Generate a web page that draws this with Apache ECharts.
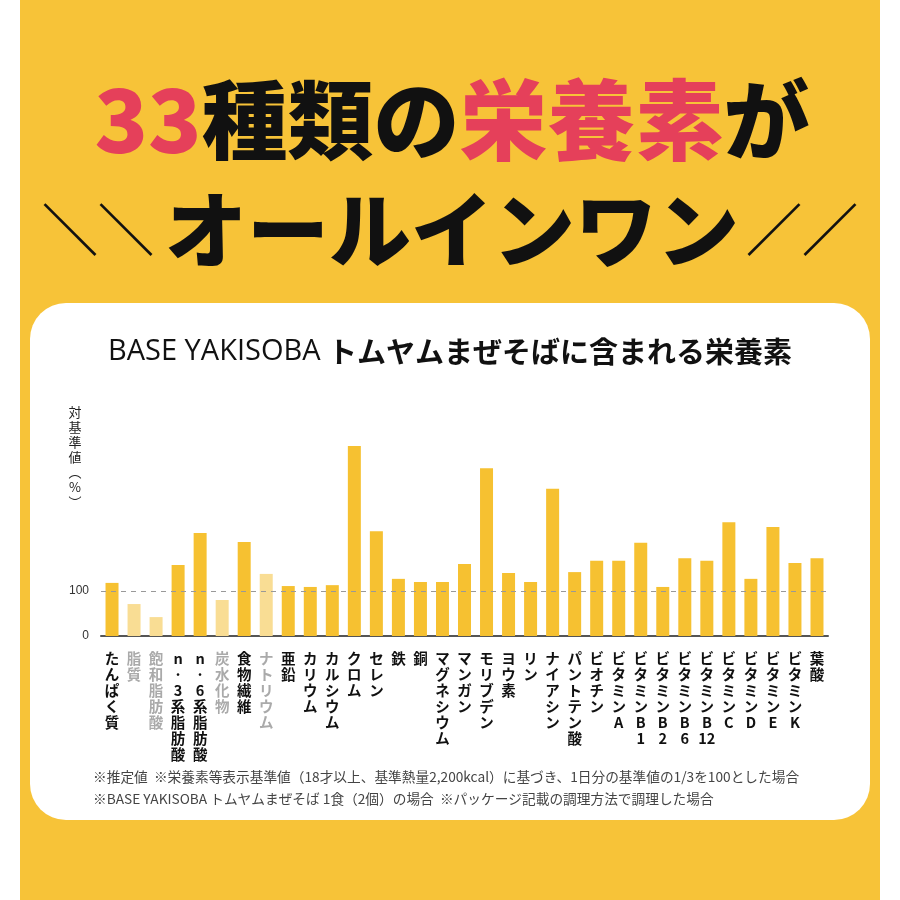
<!DOCTYPE html>
<html><head><meta charset="utf-8">
<script src="https://cdn.jsdelivr.net/npm/echarts@6/dist/echarts.min.js"></script>
<style>html,body{margin:0;background:#fff}#c{width:900px;height:900px}</style>
</head><body><div id="c"></div>
<script>
const categories=["たんぱく質","脂質","飽和脂肪酸","n-3系脂肪酸","n-6系脂肪酸","炭水化物","食物繊維","ナトリウム","亜鉛","カリウム","カルシウム","クロム","セレン","鉄","銅","マグネシウム","マンガン","モリブデン","ヨウ素","リン","ナイアシン","パントテン酸","ビオチン","ビタミンA","ビタミンB1","ビタミンB2","ビタミンB6","ビタミンB12","ビタミンC","ビタミンD","ビタミンE","ビタミンK","葉酸"];
const values=[118,71,42,158,229,80,209,138,111,109,113,422,233,127,120,120,160,373,140,120,327,142,167,167,207,109,173,167,253,127,242,162,173];
const lightItems=["脂質","飽和脂肪酸","炭水化物","ナトリウム"];
const yTicks=[0,100];
const chart=echarts.init(document.getElementById('c'));
const F='"Noto Sans CJK JP",sans-serif';
function vert(s){
  const parts=[];let i=0;
  while(i<s.length){
    if(s.substr(i,2)==='12'){parts.push('12');i+=2;}
    else if(s[i]==='-'){parts.push('·');i++;}
    else{parts.push(s[i]);i++;}
  }
  return parts.join('\n');
}
chart.setOption({
  animation:false,
  graphic:[
    {type:'rect',shape:{x:20,y:0,width:860,height:900},style:{fill:'#f7c338'}},
    {type:'rect',shape:{x:30,y:303,width:840,height:517,r:36},style:{fill:'#fff'}},
    {type:'text',x:452,y:120,style:{text:'{r|33}{b|種類の}{r|栄養素}{b|が}',align:'center',verticalAlign:'middle',
      rich:{r:{fill:'#e5405a',fontSize:88,fontWeight:900,fontFamily:F},b:{fill:'#111',fontSize:86,fontWeight:900,fontFamily:F}}}},
    {type:'text',x:452,y:230,style:{text:'オールインワン',align:'center',verticalAlign:'middle',fill:'#111',fontSize:82,fontWeight:900,fontFamily:F}},
    {type:'text',x:98,y:230,style:{text:'＼＼',align:'center',verticalAlign:'middle',fill:'#111',fontSize:56,fontWeight:'bold',fontFamily:F}},
    {type:'text',x:802,y:230,style:{text:'／／',align:'center',verticalAlign:'middle',fill:'#111',fontSize:56,fontWeight:'bold',fontFamily:F}},
    {type:'text',x:450,y:352,style:{text:'{a|BASE YAKISOBA }{b|トムヤムまぜそばに含まれる栄養素}',align:'center',verticalAlign:'middle',
      rich:{a:{fill:'#111',fontSize:29,fontFamily:'"Open Sans",sans-serif'},b:{fill:'#111',fontSize:29,fontWeight:'bold',fontFamily:F}}}},
    {type:'text',x:75,y:405,style:{text:'対\n基\n準\n値\n︵\n%\n︶',align:'center',fill:'#222',fontSize:13,lineHeight:15,fontFamily:F}},
    {type:'text',x:93,y:777,style:{text:'※推定値  ※栄養素等表示基準値（18才以上、基準熱量2,200kcal）に基づき、1日分の基準値の1/3を100とした場合',fill:'#444',fontSize:13.7,fontFamily:F,verticalAlign:'middle'}},
    {type:'text',x:93,y:799,style:{text:'※BASE YAKISOBA トムヤムまぜそば 1食（2個）の場合  ※パッケージ記載の調理方法で調理した場合',fill:'#444',fontSize:13.7,fontFamily:F,verticalAlign:'middle'}}
  ],
  grid:{left:101,width:727,top:433.5,height:202.5},
  xAxis:{type:'category',data:categories,
    axisLine:{lineStyle:{color:'#555',width:2}},axisTick:{show:false},
    axisLabel:{interval:0,margin:14,verticalAlign:'top',lineHeight:16,fontSize:14,fontWeight:'bold',fontFamily:F,
      formatter:v=>lightItems.includes(v)?'{g|'+vert(v)+'}':'{k|'+vert(v)+'}',
      rich:{g:{color:'#aaa',fontSize:14.5,lineHeight:16,fontFamily:F},k:{color:'#111',fontSize:14.5,lineHeight:16,fontWeight:'bold',fontFamily:F}}}},
  yAxis:{type:'value',min:0,max:450,interval:100,axisLine:{show:false},axisTick:{show:false},splitLine:{show:false},
    axisLabel:{color:'#333',fontSize:12,margin:12,formatter:v=>yTicks.includes(v)?String(v):''}},
  series:[{type:'bar',barWidth:13,
    data:values.map((v,i)=>({value:v,itemStyle:{color:lightItems.includes(categories[i])?'#f9dd94':'#f6c131'}})),
    markLine:{silent:true,symbol:'none',label:{show:false},lineStyle:{color:'#999',type:[5,5],width:1},data:[{yAxis:100}]}}]
});
</script></body></html>
